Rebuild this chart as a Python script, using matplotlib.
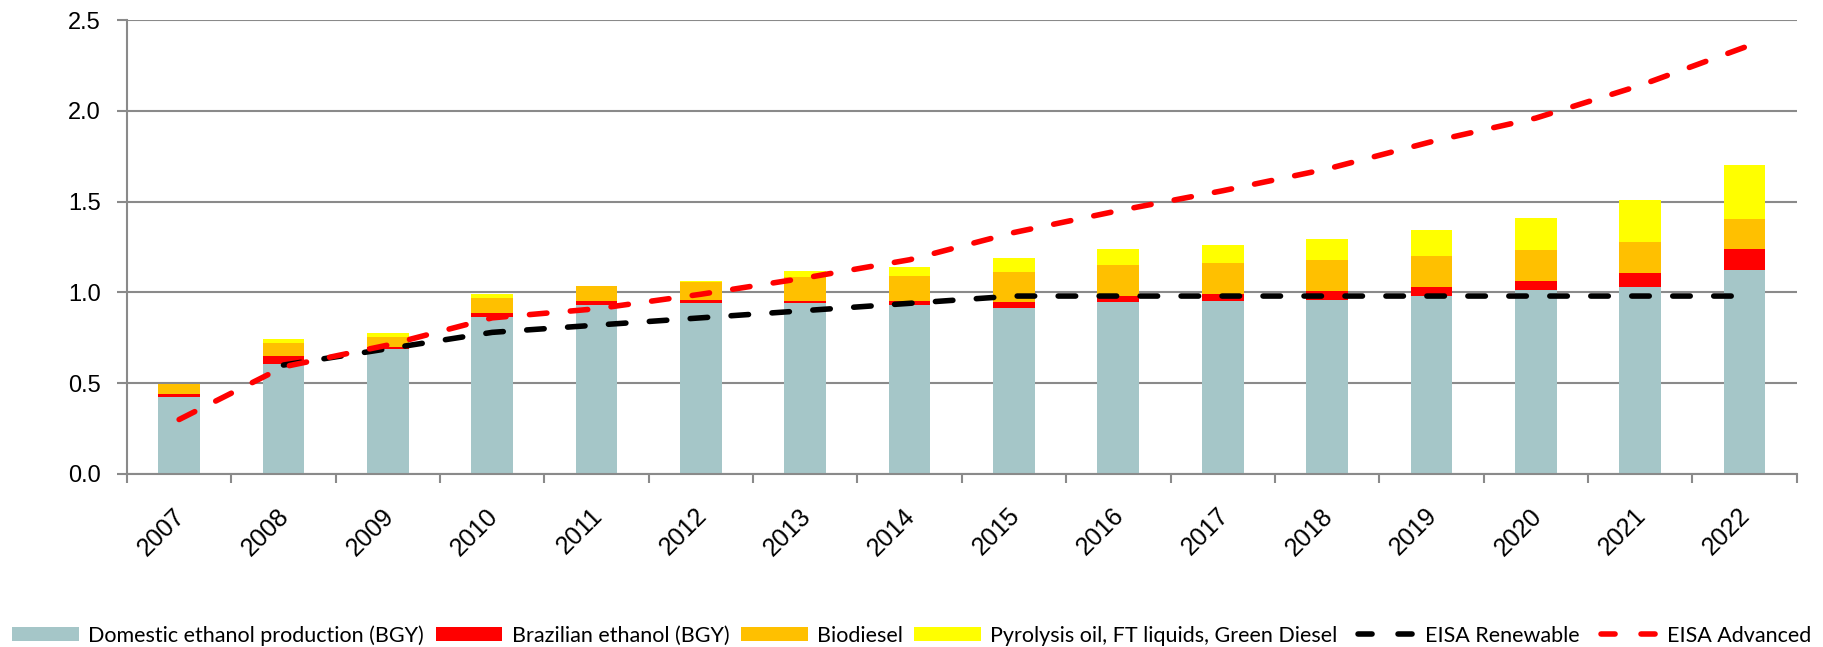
import matplotlib
matplotlib.use("Agg")
import matplotlib.pyplot as plt
from matplotlib.patches import Patch
from matplotlib.lines import Line2D
from matplotlib.transforms import ScaledTranslation
import numpy as np

years = ["2007", "2008", "2009", "2010", "2011", "2012", "2013", "2014",
         "2015", "2016", "2017", "2018", "2019", "2020", "2021", "2022"]

# Stacked supply components (billion gallons per year)
domestic = [0.425, 0.607, 0.686, 0.866, 0.928, 0.939, 0.939, 0.932,
            0.914, 0.945, 0.952, 0.960, 0.982, 1.011, 1.031, 1.125]
brazilian = [0.018, 0.044, 0.011, 0.020, 0.024, 0.019, 0.015, 0.018,
             0.035, 0.038, 0.041, 0.047, 0.049, 0.053, 0.077, 0.115]
biodiesel = [0.051, 0.068, 0.059, 0.086, 0.081, 0.099, 0.129, 0.138,
             0.163, 0.166, 0.168, 0.173, 0.171, 0.171, 0.167, 0.167]
pyrolysis = [0.0, 0.022, 0.018, 0.021, 0.0, 0.006, 0.033, 0.053,
             0.075, 0.088, 0.101, 0.115, 0.143, 0.176, 0.233, 0.292]

# Mandate curves
eisa_renewable = [np.nan, 0.60, 0.69, 0.78, 0.82, 0.86, 0.90, 0.94,
                  0.98, 0.98, 0.98, 0.98, 0.98, 0.98, 0.98, 0.98]
eisa_advanced = [0.30, 0.59, 0.71, 0.86, 0.91, 0.99, 1.08, 1.18,
                 1.33, 1.45, 1.56, 1.68, 1.83, 1.96, 2.14, 2.35]

labels = ["Domestic ethanol production (BGY)", "Brazilian ethanol (BGY)",
          "Biodiesel", "Pyrolysis oil, FT liquids, Green Diesel",
          "EISA Renewable", "EISA Advanced"]
colors = ["#A5C6C8", "#FF0000", "#FFC000", "#FFFF00"]

plt.rcParams["font.family"] = ["Liberation Sans", "DejaVu Sans"]
plt.rcParams["lines.scale_dashes"] = False

fig = plt.figure(figsize=(18.24, 6.47), dpi=100)
ax = fig.add_axes([0.0696, 0.2674, 0.9154, 0.7016])

x = np.arange(len(years))
w = 0.4
bottom = np.zeros(len(years))
for vals, c in zip([domestic, brazilian, biodiesel, pyrolysis], colors):
    ax.bar(x, vals, w, bottom=bottom, color=c, edgecolor="none", zorder=2)
    bottom += np.array(vals)

lw = 4.0
dash = (12.6, 16.9)
ax.plot(x, eisa_renewable, color="black", lw=lw, dashes=dash,
        dash_capstyle="round", zorder=3)
ax.plot(x, eisa_advanced, color="#FF0000", lw=lw, dashes=dash,
        dash_capstyle="round", zorder=4)

grid_c = "#8A8A8A"
ax.set_xlim(-0.5, len(years) - 0.5)
ax.set_ylim(0, 2.5)
yt = np.arange(0, 2.51, 0.5)
ax.set_yticks(yt)
ax.set_yticklabels([f"{v:.1f}" for v in yt], fontsize=17)
ax.yaxis.grid(True, color=grid_c, lw=1.5, zorder=0)
ax.set_axisbelow(True)
ax.tick_params(axis="y", length=7.2, width=1.5, color=grid_c, pad=11.5)

ax.set_xticks(x)
ax.set_xticklabels(years, rotation=45, ha="right", va="center",
                   rotation_mode="anchor", fontsize=18)
ax.tick_params(axis="x", which="major", length=0, pad=27.5)
shift = ScaledTranslation(0.02, 0, fig.dpi_scale_trans)
for lab in ax.get_xticklabels():
    lab.set_transform(lab.get_transform() + shift)
ax.set_xticks(np.arange(-0.5, len(years)), minor=True)
ax.tick_params(axis="x", which="minor", length=6.5, width=1.5, color=grid_c,
               direction="out")

for s in ["top", "right"]:
    ax.spines[s].set_visible(False)
for s in ["left", "bottom"]:
    ax.spines[s].set_color(grid_c)
    ax.spines[s].set_linewidth(1.5)

handles = [Patch(facecolor=c, edgecolor="none") for c in colors]
leg_dash = (22.3, (10.1, 18.7))
handles += [Line2D([0], [0], color="black", lw=lw, linestyle=leg_dash,
                   dash_capstyle="round"),
            Line2D([0], [0], color="#FF0000", lw=lw, linestyle=leg_dash,
                   dash_capstyle="round")]
fig.legend(handles, labels, loc="center", bbox_to_anchor=(0.5, 0.018),
           ncol=6, frameon=False, handlelength=3.1, handleheight=0.65,
           handletextpad=0.42, columnspacing=0.55, borderpad=0,
           prop={"family": ["Lato", "DejaVu Sans"], "size": 15.5})

fig.savefig("out.png", dpi=100)
